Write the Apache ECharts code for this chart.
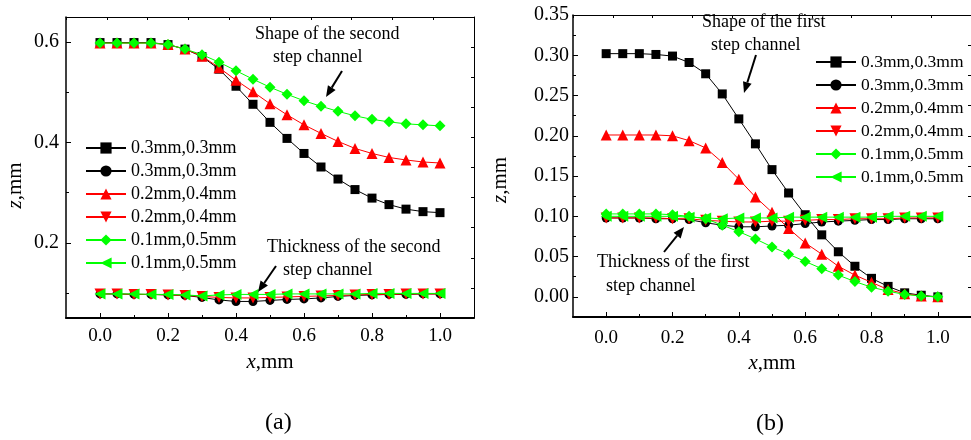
<!DOCTYPE html>
<html>
<head>
<meta charset="utf-8">
<script src="https://cdn.jsdelivr.net/npm/echarts@6/dist/echarts.min.js"></script>
<style>
  html, body { margin: 0; padding: 0; background: #fff; }
  #chart { width: 971px; height: 440px; }
</style>
</head>
<body>
<div id="chart"></div>
<script>
// x positions along the channel (mm)
const xs = [0, 0.05, 0.1, 0.15, 0.2, 0.25, 0.3, 0.35, 0.4, 0.45, 0.5,
            0.55, 0.6, 0.65, 0.7, 0.75, 0.8, 0.85, 0.9, 0.95, 1.0];

// legend texts (two series per step pair: shape and thickness)
const legendLabels = ['0.3mm,0.3mm', '0.3mm,0.3mm', '0.2mm,0.4mm',
                      '0.2mm,0.4mm', '0.1mm,0.5mm', '0.1mm,0.5mm'];

// (a) second step channel
const aShape03 = [0.599, 0.599, 0.599, 0.599, 0.595, 0.586, 0.571, 0.546, 0.512, 0.476, 0.440,
                  0.408, 0.378, 0.351, 0.327, 0.306, 0.289, 0.276, 0.267, 0.262, 0.260];
const aThick03 = [0.098, 0.098, 0.097, 0.097, 0.096, 0.095, 0.091, 0.086, 0.083, 0.083, 0.085,
                  0.087, 0.088, 0.090, 0.093, 0.095, 0.096, 0.097, 0.097, 0.098, 0.098];
const aShape02 = [0.598, 0.598, 0.598, 0.598, 0.595, 0.586, 0.572, 0.549, 0.524, 0.501, 0.477,
                  0.455, 0.435, 0.418, 0.402, 0.388, 0.378, 0.370, 0.365, 0.361, 0.359];
const aThick02 = [0.098, 0.098, 0.097, 0.097, 0.096, 0.095, 0.093, 0.091, 0.090, 0.090, 0.091,
                  0.092, 0.093, 0.094, 0.095, 0.096, 0.097, 0.097, 0.098, 0.098, 0.098];
const aShape01 = [0.598, 0.598, 0.598, 0.598, 0.595, 0.586, 0.575, 0.560, 0.543, 0.526, 0.510,
                  0.496, 0.483, 0.472, 0.462, 0.453, 0.446, 0.441, 0.437, 0.435, 0.433];
const aThick01 = [0.098, 0.098, 0.098, 0.097, 0.097, 0.096, 0.094, 0.096, 0.097, 0.097, 0.097,
                  0.098, 0.098, 0.098, 0.098, 0.098, 0.099, 0.099, 0.099, 0.099, 0.099];

// (b) first step channel
const bShape03 = [0.302, 0.302, 0.302, 0.301, 0.299, 0.291, 0.277, 0.252, 0.221, 0.190, 0.158,
                  0.129, 0.102, 0.077, 0.056, 0.038, 0.023, 0.013, 0.005, 0.002, 0.000];
const bThick03 = [0.098, 0.098, 0.098, 0.097, 0.097, 0.096, 0.092, 0.089, 0.087, 0.087, 0.088,
                  0.089, 0.091, 0.093, 0.094, 0.095, 0.096, 0.096, 0.097, 0.097, 0.097];
const bShape02 = [0.201, 0.201, 0.201, 0.201, 0.200, 0.194, 0.185, 0.167, 0.146, 0.124, 0.105,
                  0.085, 0.067, 0.053, 0.038, 0.027, 0.018, 0.009, 0.004, 0.001, 0.000];
const bThick02 = [0.098, 0.098, 0.098, 0.098, 0.097, 0.097, 0.095, 0.094, 0.093, 0.093, 0.094,
                  0.094, 0.095, 0.096, 0.096, 0.097, 0.097, 0.097, 0.098, 0.098, 0.098];
const bShape01 = [0.103, 0.103, 0.103, 0.103, 0.102, 0.100, 0.097, 0.089, 0.081, 0.072, 0.062,
                  0.053, 0.044, 0.035, 0.027, 0.019, 0.012, 0.007, 0.003, 0.001, 0.000];
const bThick01 = [0.100, 0.100, 0.100, 0.100, 0.100, 0.099, 0.098, 0.097, 0.098, 0.098, 0.098,
                  0.099, 0.099, 0.099, 0.099, 0.099, 0.099, 0.100, 0.100, 0.100, 0.100];

// tick values
const xMajor = [0, 0.2, 0.4, 0.6, 0.8, 1.0];
const xMinor = [0.1, 0.3, 0.5, 0.7, 0.9];
const aYMajor = [0.2, 0.4, 0.6];
const aYMinor = [0.1, 0.3, 0.5];
const bYMajor = [0, 0.05, 0.1, 0.15, 0.2, 0.25, 0.3, 0.35];
const bYMinor = [0.025, 0.075, 0.125, 0.175, 0.225, 0.275, 0.325];

const FONT = 'Liberation Serif, Times New Roman, serif';
const BLACK = '#000000', RED = '#ff0000', GREEN = '#00ff00';

const styles = [
  { color: BLACK, symbol: 'rect', size: 9, rotate: 0 },
  { color: BLACK, symbol: 'circle', size: 9, rotate: 0 },
  { color: RED, symbol: 'triangle', size: 11, rotate: 0 },
  { color: RED, symbol: 'triangle', size: 11, rotate: 180 },
  { color: GREEN, symbol: 'diamond', size: 11, rotate: 0 },
  { color: GREEN, symbol: 'triangle', size: 11, rotate: 90 }
];

function makeSeries(prefix, arrays, xi, yi) {
  return arrays.map((arr, i) => ({
    name: prefix + i,
    type: 'line',
    xAxisIndex: xi,
    yAxisIndex: yi,
    data: xs.map((x, k) => [x, arr[k]]),
    symbol: styles[i].symbol,
    symbolSize: styles[i].size,
    symbolRotate: styles[i].rotate,
    itemStyle: { color: styles[i].color },
    lineStyle: { color: styles[i].color, width: 1 },
    z: 2 + i
  }));
}

const seriesA = makeSeries('a', [aShape03, aThick03, aShape02, aThick02, aShape01, aThick01], 0, 0);
const seriesB = makeSeries('b', [bShape03, bThick03, bShape02, bThick02, bShape01, bThick01], 3, 3);

function labelMap(name) { return legendLabels[Number(name.slice(1))]; }

function majorX(grid, margin) {
  return {
    type: 'value', gridIndex: grid, position: 'bottom', min: -0.1, max: 1.1,
    name: '{i|x},mm', nameLocation: 'middle', nameGap: 34,
    nameTextStyle: { fontFamily: FONT, fontSize: 21, color: BLACK,
      rich: { i: { fontFamily: FONT, fontSize: 21, fontStyle: 'italic', color: BLACK } } },
    axisLine: { onZero: false, lineStyle: { color: BLACK, width: 2 } },
    axisTick: { inside: true, length: 5, customValues: xMajor, lineStyle: { color: BLACK, width: 1 } },
    axisLabel: { customValues: xMajor, margin: margin, fontFamily: FONT, fontSize: 19, color: BLACK,
      formatter: v => Number(v).toFixed(1) },
    splitLine: { show: false }
  };
}
function minorX(grid) {
  return {
    type: 'value', gridIndex: grid, position: 'bottom', min: -0.1, max: 1.1,
    axisLine: { show: false, onZero: false },
    axisTick: { inside: true, length: 3, customValues: xMinor, lineStyle: { color: BLACK, width: 1 } },
    axisLabel: { show: false }, splitLine: { show: false }
  };
}
function frameAxis(grid, pos) {
  return {
    type: 'value', gridIndex: grid, position: pos, min: 0, max: 10, interval: 1,
    axisLine: { onZero: false, lineStyle: { color: BLACK, width: 1 } },
    axisTick: { inside: true, length: 3, lineStyle: { color: BLACK, width: 1 } },
    axisLabel: { show: false }, splitLine: { show: false }
  };
}

const option = {
  animation: false,
  backgroundColor: '#ffffff',
  grid: [
    { left: 66, top: 17, width: 408, height: 301 },
    { left: 573, top: 15, width: 404, height: 302 }
  ],
  xAxis: [
    majorX(0, 9), minorX(0), frameAxis(0, 'top'),
    majorX(1, 12), minorX(1), frameAxis(1, 'top')
  ],
  yAxis: [
    {
      type: 'value', gridIndex: 0, position: 'left', min: 0.05, max: 0.65,
      name: '{i|z},mm', nameLocation: 'middle', nameGap: 40,
      nameTextStyle: { fontFamily: FONT, fontSize: 21, color: BLACK, padding: [0, 36, 0, 0],
        rich: { i: { fontFamily: FONT, fontSize: 21, fontStyle: 'italic', color: BLACK } } },
      axisLine: { onZero: false, lineStyle: { color: BLACK, width: 1.5 } },
      axisTick: { inside: true, length: 5, customValues: aYMajor, lineStyle: { color: BLACK, width: 1 } },
      axisLabel: { customValues: aYMajor, margin: 7, fontFamily: FONT, fontSize: 20, color: BLACK,
        formatter: v => Number(v).toFixed(1) },
      splitLine: { show: false }
    },
    {
      type: 'value', gridIndex: 0, position: 'left', min: 0.05, max: 0.65,
      axisLine: { show: false, onZero: false },
      axisTick: { inside: true, length: 3, customValues: aYMinor, lineStyle: { color: BLACK, width: 1 } },
      axisLabel: { show: false }, splitLine: { show: false }
    },
    frameAxis(0, 'right'),
    {
      type: 'value', gridIndex: 1, position: 'left', min: -0.025, max: 0.35,
      name: '{i|z},mm', nameLocation: 'middle', nameGap: 62,
      nameTextStyle: { fontFamily: FONT, fontSize: 21, color: BLACK, padding: [0, 28, 0, 0],
        rich: { i: { fontFamily: FONT, fontSize: 21, fontStyle: 'italic', color: BLACK } } },
      axisLine: { onZero: false, lineStyle: { color: BLACK, width: 1.5 } },
      axisTick: { inside: true, length: 5, customValues: bYMajor, lineStyle: { color: BLACK, width: 1 } },
      axisLabel: { customValues: bYMajor, margin: 4, fontFamily: FONT, fontSize: 20, color: BLACK,
        formatter: v => Number(v).toFixed(2) },
      splitLine: { show: false }
    },
    {
      type: 'value', gridIndex: 1, position: 'left', min: -0.025, max: 0.35,
      axisLine: { show: false, onZero: false },
      axisTick: { inside: true, length: 3, customValues: bYMinor, lineStyle: { color: BLACK, width: 1 } },
      axisLabel: { show: false }, splitLine: { show: false }
    },
    frameAxis(1, 'right')
  ],
  legend: [
    {
      orient: 'vertical', left: 85, top: 139, padding: 0,
      itemWidth: 40, itemHeight: 14, itemGap: 5,
      data: seriesA.map(s => s.name), formatter: labelMap,
      textStyle: { fontFamily: FONT, fontSize: 18, lineHeight: 18, color: BLACK }
    },
    {
      orient: 'vertical', left: 815, top: 53, padding: 0,
      itemWidth: 40, itemHeight: 14, itemGap: 5,
      data: seriesB.map(s => s.name), formatter: labelMap,
      textStyle: { fontFamily: FONT, fontSize: 17.5, lineHeight: 18, color: BLACK }
    }
  ],
  series: seriesA.concat(seriesB)
};

// annotation texts and arrows
function txt(text, left, cy, size) {
  return { type: 'text', left: left, top: cy - size / 2 - 1, z: 20,
    style: { text: text, fontFamily: FONT, fontSize: size, fill: BLACK } };
}
function arrow(x1, y1, x2, y2) {
  const dx = x2 - x1, dy = y2 - y1, len = Math.hypot(dx, dy);
  const ux = dx / len, uy = dy / len, headL = 11, headW = 4.5;
  const bx = x2 - ux * headL, by = y2 - uy * headL;
  return [
    { type: 'line', z: 20, shape: { x1: x1, y1: y1, x2: bx, y2: by },
      style: { stroke: BLACK, lineWidth: 2 } },
    { type: 'polygon', z: 20,
      shape: { points: [[x2, y2], [bx - uy * headW, by + ux * headW], [bx + uy * headW, by - ux * headW]] },
      style: { fill: BLACK } }
  ];
}

option.graphic = [
  txt('Shape of the second', 255, 35, 18),
  txt('step channel', 273, 58, 18),
  txt('Thickness of the second', 267, 248, 18),
  txt('step channel', 283, 271, 18),
  txt('Shape of the first', 702, 23, 18),
  txt('step channel', 711, 46, 18),
  txt('Thickness of the first', 597, 263, 18),
  txt('step channel', 606, 287, 18),
  { type: 'text', left: 265, top: 411, z: 20,
    style: { text: '(a)', fontFamily: FONT, fontSize: 24, fill: BLACK } },
  { type: 'text', left: 756, top: 412, z: 20,
    style: { text: '(b)', fontFamily: FONT, fontSize: 24, fill: BLACK } }
].concat(
  arrow(342, 71, 326, 97),
  arrow(276, 266, 258, 292),
  arrow(756, 55, 744, 93),
  arrow(664, 252, 684, 227)
);

const chart = echarts.init(document.getElementById('chart'), null, { renderer: 'canvas' });
chart.setOption(option);
</script>
</body>
</html>
